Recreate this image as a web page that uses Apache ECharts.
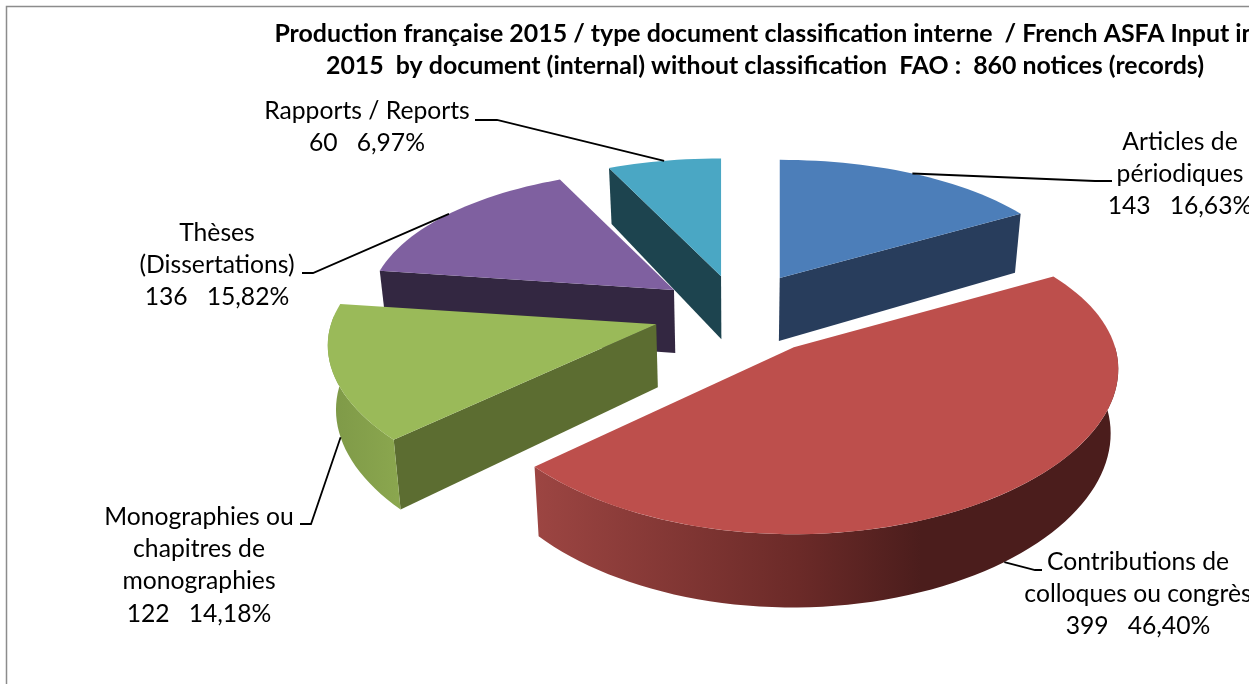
<!DOCTYPE html>
<html>
<head>
<meta charset="utf-8">
<title>Production française 2015</title>
<style>
html, body { margin: 0; padding: 0; background: #fff; overflow: hidden; }
#container { width: 1249px; height: 684px; }
</style>
<script src="https://cdn.jsdelivr.net/npm/echarts@6/dist/echarts.min.js"></script>
</head>
<body>
<div id="container"></div>
<script>
var titleText = 'Production française 2015 / type document classification interne  / French ASFA Input in\n2015  by document (internal) without classification  FAO :  860 notices (records)';

// data, clockwise from 12 o'clock
var sliceNames = [
    'Articles de\npériodiques',
    'Contributions de\ncolloques ou congrès',
    'Monographies ou\nchapitres de\nmonographies',
    'Thèses\n(Dissertations)',
    'Rapports / Reports'
];
var sliceValues = [143, 399, 122, 136, 60];
var slicePercents = ['16,63%', '46,40%', '14,18%', '15,82%', '6,97%'];

// look
var topColors = ['#4c7eb9', '#bd4f4c', '#9aba59', '#7f60a0', '#4aa7c4'];
var wallColors = ['#283d5c', '#7a2f2d', '#5c6d31', '#332741', '#1d444f'];
var sliceExplode = [0.268, 0.3, 0.275, 0.255, 0.25];
var sliceWidth = [1, 0.98, 1.025, 1, 1];
var labelCenters = [[1180, 142], [1138, 562], [199, 517], [217, 233], [367, 111]];
var leaderElbows = [
    [[1095, 181], [1112, 181]],
    [[1035, 570], [1042, 570]],
    [[311, 524], [300, 524]],
    [[313, 273], [302, 273]],
    [[497, 120], [475, 120]]
];

// projection of the tilted pie
var X0 = 738, Y0 = 312, RX = 312, RY = 146, DEPTH = 63;
var PERSP_X = 0.14, PERSP_Y = 0.18, PERSP_SLICE = 0.2, BOTTOM_X = 0.98;
var FONT = 'Lato, "Open Sans", sans-serif';

var total = sliceValues.reduce(function (a, b) { return a + b; }, 0);
var angles = [];
var acc = 0;
sliceValues.forEach(function (v) {
    angles.push([acc / total * Math.PI * 2, (acc + v) / total * Math.PI * 2]);
    acc += v;
});

function centerOf(i) {
    var mid = (angles[i][0] + angles[i][1]) / 2;
    return [sliceExplode[i] * Math.sin(mid), sliceExplode[i] * Math.cos(mid)];
}
function apex(i) {
    var c = centerOf(i);
    return [X0 + RX * c[0], Y0 - RY * c[1], 1];
}
function rimPoint(i, a) {
    var A = apex(i);
    var c = centerOf(i);
    var scale = 1 / (1 + PERSP_SLICE * c[1]);
    var u = Math.sin(a), v = Math.cos(a);
    var sx = 1 / (1 + PERSP_X * v), sy = 1 / (1 + PERSP_Y * v);
    return [A[0] + RX * sliceWidth[i] * scale * u * sx, A[1] - RY * scale * v * sy, sx];
}
function down(p) {
    return [X0 + (p[0] - X0) * BOTTOM_X, p[1] + DEPTH * p[2]];
}
function rimPoints(i, a0, a1) {
    var pts = [];
    var n = Math.max(2, Math.ceil((a1 - a0) / (Math.PI / 90)));
    for (var k = 0; k <= n; k++) {
        pts.push(rimPoint(i, a0 + (a1 - a0) * k / n));
    }
    return pts;
}
function xy(p) { return [p[0], p[1]]; }

function cutWall(i, a, mid) {
    var A = apex(i), P = rimPoint(i, a), M = rimPoint(i, mid);
    var inner = (P[0] - A[0]) * (M[1] - A[1]) - (P[1] - A[1]) * (M[0] - A[0]);
    var below = P[0] - A[0];
    if (inner * below >= 0) {
        return null;
    }
    return {
        type: 'polygon',
        shape: { points: [xy(A), xy(P), down(P), down(A)] },
        style: { fill: wallColors[i] }
    };
}

function wallFill(i) {
    if (i === 1) {
        return {
            type: 'linear', x: 537, y: 0, x2: 1120, y2: 0, global: true,
            colorStops: [
                { offset: 0, color: '#9c4542' },
                { offset: 0.45, color: '#6b2a28' },
                { offset: 0.66, color: '#4b1d1c' },
                { offset: 1, color: '#4b1d1c' }
            ]
        };
    }
    if (i === 2) {
        return {
            type: 'linear', x: 335, y: 0, x2: 396, y2: 0, global: true,
            colorStops: [
                { offset: 0, color: '#7f9a48' },
                { offset: 1, color: '#8aa64e' }
            ]
        };
    }
    return wallColors[i];
}

function renderSlice(params) {
    var i = params.dataIndex;
    var a0 = angles[i][0], a1 = angles[i][1];
    var mid = (a0 + a1) / 2;
    var children = [];
    var w0 = cutWall(i, a0, mid);
    var w1 = cutWall(i, a1, mid);
    if (w0) { children.push(w0); }
    if (w1) { children.push(w1); }
    var from = Math.max(a0, Math.PI / 2), to = Math.min(a1, Math.PI * 1.52);
    if (to > from) {
        var rim = rimPoints(i, from, to);
        var outer = rim.map(xy).concat(rim.slice().reverse().map(down));
        children.push({
            type: 'polygon',
            shape: { points: outer },
            style: { fill: wallFill(i) }
        });
    }
    children.push({
        type: 'polygon',
        shape: { points: [xy(apex(i))].concat(rimPoints(i, a0, a1).map(xy)) },
        style: { fill: topColors[i] }
    });
    return { type: 'group', children: children };
}

function renderLabel(params) {
    var i = params.dataIndex;
    var mid = (angles[i][0] + angles[i][1]) / 2;
    var anchor = rimPoint(i, mid);
    // front slices carry the line on the lower edge of the wall
    var start = Math.cos(mid) < 0 ? down(anchor) : xy(anchor);
    var lines = sliceNames[i].split('\n');
    lines.push(sliceValues[i] + '   ' + slicePercents[i]);
    var children = [{
        type: 'polyline',
        shape: { points: [start].concat(leaderElbows[i]) },
        style: { fill: null, stroke: '#000', lineWidth: 1.8 }
    }];
    lines.forEach(function (t, k) {
        children.push({
            type: 'text',
            style: {
                text: t,
                x: labelCenters[i][0],
                y: labelCenters[i][1] + k * 32.2,
                align: 'center',
                verticalAlign: 'middle',
                font: '24.7px ' + FONT,
                fill: '#000'
            }
        });
    });
    return { type: 'group', children: children };
}

// paint from the back of the pie to the front
var paintOrder = sliceValues.map(function (v, i) { return i; }).sort(function (a, b) {
    return centerOf(b)[1] - centerOf(a)[1];
});

var dom = document.getElementById('container');
var myChart = echarts.init(dom);
var option = {
    animation: false,
    backgroundColor: '#fff',
    title: {
        text: titleText,
        left: 760,
        top: 13,
        textAlign: 'center',
        textStyle: {
            fontFamily: FONT,
            fontWeight: 'bold',
            fontSize: 24.9,
            lineHeight: 32,
            color: '#000'
        }
    },
    graphic: [{
        type: 'polyline',
        silent: true,
        shape: { points: [[6.5, 684], [6.5, 6.5], [1249, 6.5]] },
        style: { fill: null, stroke: '#8c8c8c', lineWidth: 1.5 }
    }],
    series: [{
        type: 'custom',
        coordinateSystem: 'none',
        silent: true,
        clip: false,
        renderItem: function (params) {
            return renderSlice({ dataIndex: paintOrder[params.dataIndex] });
        },
        data: paintOrder.map(function (i) { return sliceValues[i]; }),
        z: 2
    }, {
        type: 'custom',
        coordinateSystem: 'none',
        silent: true,
        renderItem: renderLabel,
        data: sliceValues,
        z: 3
    }]
};
myChart.setOption(option);
</script>
</body>
</html>
